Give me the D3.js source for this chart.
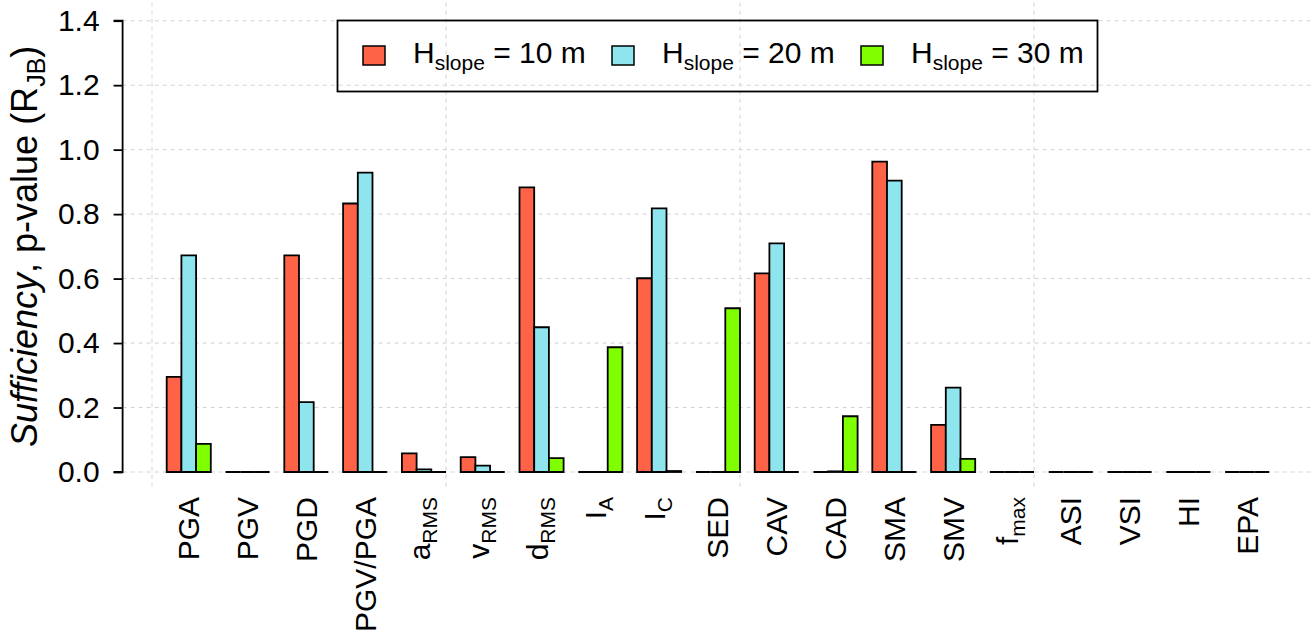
<!DOCTYPE html>
<html>
<head>
<meta charset="utf-8">
<script src="https://cdn.jsdelivr.net/npm/d3@7"></script>
<style>
  html, body { margin: 0; padding: 0; background: #fff; }
  svg { display: block; font-family: "Liberation Sans", Arial, sans-serif; }
</style>
</head>
<body>
<svg id="chart" width="1315" height="634"></svg>
<script>
// Intensity measures: [main text, subscript]
const categories = [
  ["PGA", ""], ["PGV", ""], ["PGD", ""], ["PGV/PGA", ""],
  ["a", "RMS"], ["v", "RMS"], ["d", "RMS"], ["I", "A"], ["I", "C"],
  ["SED", ""], ["CAV", ""], ["CAD", ""], ["SMA", ""], ["SMV", ""],
  ["f", "max"], ["ASI", ""], ["VSI", ""], ["HI", ""], ["EPA", ""]
];

const seriesNames = ["10 m", "20 m", "30 m"];
const seriesColors = ["#FF6347", "#8EE5EE", "#7FFF00"];

// p-values of the Jarque-Bera residual test for each slope height
const h10 = [0.295, 0, 0.672, 0.833, 0.058, 0.046, 0.883, 0, 0.601, 0, 0.616, 0, 0.963, 0.146, 0, 0, 0, 0, 0];
const h20 = [0.672, 0, 0.217, 0.929, 0.008, 0.020, 0.449, 0, 0.818, 0, 0.709, 0.002, 0.904, 0.262, 0, 0, 0, 0, 0];
const h30 = [0.087, 0, 0, 0, 0, 0, 0.043, 0.387, 0.003, 0.508, 0, 0.173, 0, 0.041, 0, 0, 0, 0, 0];

const yTicks = [0, 0.2, 0.4, 0.6, 0.8, 1.0, 1.2, 1.4];
const xGrid = [0, 20, 40, 60];

const series = [h10, h20, h30];

const svg = d3.select("#chart");

// Bar-unit coordinates: each group holds 3 bars plus 1 unit of space before it
const x = d3.scaleLinear().domain([-2, 79]).range([122.6, 1313.3]);
const y = d3.scaleLinear().domain([0, 1.4]).range([472, 20.7]);
const yTop = y(1.456), yBot = y(-0.056);

// grid
const grid = svg.append("g")
  .attr("stroke", "#d3d3d3").attr("stroke-width", 1).attr("stroke-dasharray", "4,4");
grid.selectAll("line.h").data(yTicks).join("line")
  .attr("x1", x(-2)).attr("x2", x(79))
  .attr("y1", d => y(d)).attr("y2", d => y(d));
grid.selectAll("line.v").data(xGrid).join("line")
  .attr("x1", d => x(d)).attr("x2", d => x(d))
  .attr("y1", yTop).attr("y2", yBot);

// bars (as closed paths so zero-height bars still show their outline)
const bars = [];
categories.forEach((c, g) => {
  series.forEach((s, j) => bars.push({ g, j, v: s[g] }));
});
svg.append("g").selectAll("path").data(bars).join("path")
  .attr("d", d => {
    const x0 = x(4 * d.g + 1 + d.j), x1 = x(4 * d.g + 2 + d.j);
    const y0 = y(0), y1 = y(d.v);
    return `M${x0},${y0}V${y1}H${x1}V${y0}Z`;
  })
  .attr("fill", d => seriesColors[d.j])
  .attr("stroke", "#000").attr("stroke-width", 1.8)
  .attr("stroke-linejoin", "miter");

// y axis
const yAxis = d3.axisLeft(y).tickValues(yTicks).tickFormat(d3.format(".1f")).tickSize(9).tickPadding(14);
const ya = svg.append("g").attr("transform", "translate(122.6,0)").call(yAxis);
ya.select(".domain").attr("stroke-width", 1.8).attr("d", `M-9,${y(1.4)}H0V${y(0)}H-9`);
ya.selectAll(".tick line").attr("stroke-width", 1.8);
ya.selectAll(".tick text").attr("font-size", 30).attr("fill", "#000")
  .attr("font-family", "'Liberation Sans', Arial, sans-serif");

// y label
const yl = svg.append("text")
  .attr("transform", `translate(37,${(yTop + yBot) / 2}) rotate(-90)`)
  .attr("text-anchor", "middle").attr("font-size", 36);
yl.append("tspan").attr("font-style", "italic").text("Sufficiency");
yl.append("tspan").text(", p-value (R");
yl.append("tspan").attr("font-size", 25).attr("dy", 8).text("JB");
yl.append("tspan").attr("dy", -8).text(")");

// category labels, rotated
categories.forEach(([main, sub], g) => {
  const cx = x(4 * g + 2.5);
  const t = svg.append("text")
    .attr("transform", `translate(${cx + (sub ? 6 : 10.5)},497) rotate(-90)`)
    .attr("text-anchor", "end").attr("font-size", 30);
  t.append("tspan").text(main);
  if (sub) t.append("tspan").attr("font-size", 21).attr("dy", 7).text(sub);
});

// legend
const lg = svg.append("g");
lg.append("rect").attr("x", 337.5).attr("y", 20.5).attr("width", 760).attr("height", 71)
  .attr("fill", "none").attr("stroke", "#000").attr("stroke-width", 1.8);
const legX = [363, 612, 861];
seriesNames.forEach((n, i) => {
  lg.append("rect").attr("x", legX[i]).attr("y", 46).attr("width", 22).attr("height", 19)
    .attr("fill", seriesColors[i]).attr("stroke", "#000").attr("stroke-width", 1.5);
  const t = lg.append("text").attr("x", legX[i] + 50).attr("y", 63).attr("font-size", 30);
  t.append("tspan").text("H");
  t.append("tspan").attr("font-size", 21).attr("dy", 7).text("slope");
  t.append("tspan").attr("dy", -7).text(" = " + n);
});
</script>
</body>
</html>
